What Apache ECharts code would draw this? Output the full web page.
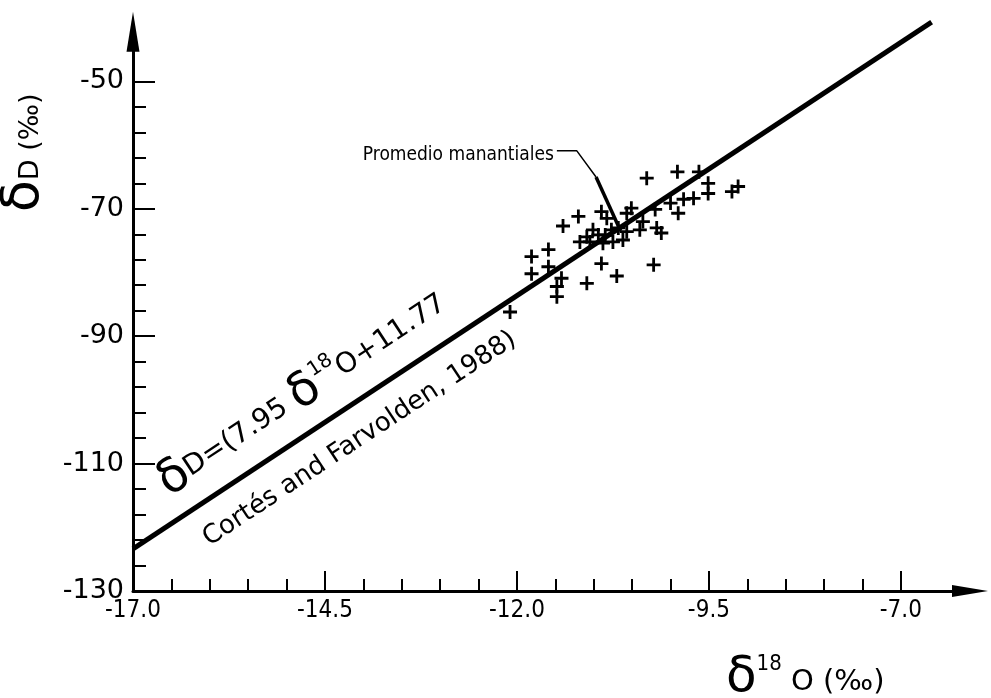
<!DOCTYPE html>
<html>
<head>
<meta charset="utf-8">
<script src="https://cdn.jsdelivr.net/npm/echarts@6/dist/echarts.min.js"></script>
<style>
  html, body { margin: 0; padding: 0; background: #fff; }
  #chart { width: 991px; height: 698px; }
</style>
</head>
<body>
<div id="chart"></div>
<script>
// muestras (delta 18O, delta D), per mil
var d18O = [-10.31, -9.91, -9.63, -9.51, -9.51, -9.70, -9.83, -10.00, -9.90, -9.20, -9.12,
            -10.51, -10.57, -10.20, -10.90, -10.83, -11.20, -11.40, -11.01, -11.09, -11.18,
            -11.05, -10.94, -10.85, -10.77, -10.68, -10.57, -10.62, -10.75, -10.88, -10.40,
            -10.36, -10.12, -10.18, -11.59, -11.81, -11.81, -11.59, -11.42, -11.48, -11.48,
            -11.09, -10.90, -10.70, -10.22, -12.09];
var dD   = [-65.2, -64.2, -64.2, -66.0, -67.6, -68.35, -68.5, -69.1, -70.7, -67.3, -66.5,
            -69.9, -70.7, -70.1, -70.45, -71.5, -71.2, -72.7, -73.3, -74.4, -75.2,
            -75.2, -74.1, -74.1, -73.3, -73.0, -73.6, -74.9, -75.2, -75.4, -73.3,
            -72.0, -73.8, -73.0, -76.4, -77.5, -80.2, -79.1, -80.9, -82.2, -83.8,
            -81.7, -78.6, -80.55, -78.8, -86.2];

// recta de Cortés and Farvolden (1988): dD = 7.95 d18O + 11.77
var lineSlope = 7.95;
var lineIntercept = 11.77;
var lineX = [-17.0, -6.6];

// promedio manantiales (leader line)
var leaderX = [-11.48, -11.22, -10.97];
var leaderY = [-60.9, -60.9, -65.0];
var meanPoint = [-10.65, -73.5];

// ticks
var xMajor = [-17.0, -14.5, -12.0, -9.5, -7.0];
var yMajor = [-130, -110, -90, -70, -50];
var xMinor = [];
for (var i = 0; i < xMajor.length - 1; i++) {
  for (var k = 1; k < 5; k++) xMinor.push(+(xMajor[i] + k * 0.5).toFixed(1));
}
var yMinor = [];
for (var j = 0; j < yMajor.length - 1; j++) {
  for (var m = 1; m < 5; m++) yMinor.push(yMajor[j] + m * 4);
}

var scatterData = d18O.map(function (x, i) { return [x, dD[i]]; });
var lineData = lineX.map(function (x) { return [x, +(lineSlope * x + lineIntercept).toFixed(2)]; });
var leaderData = leaderX.map(function (x, i) { return [x, leaderY[i]]; });

var plus = 'path://M5.6,0 H8.4 V5.6 H14 V8.4 H8.4 V14 H5.6 V8.4 H0 V5.6 H5.6 Z';
var labelFont = '"DejaVu Sans", sans-serif';
var condFont = '"DejaVu Sans Condensed", "DejaVu Sans", sans-serif';
var narrowFont = '"Liberation Sans Narrow", "DejaVu Sans Condensed", sans-serif';

var myChart = echarts.init(document.getElementById('chart'), null, { renderer: 'canvas' });

var baseX = { type: 'value', min: -17, max: -6.1, position: 'bottom', splitLine: { show: false } };
var baseY = { type: 'value', min: -130, max: -42.2, position: 'left', splitLine: { show: false } };

var option = {
  animation: false,
  backgroundColor: '#fff',
  grid: { left: 133, right: 21, top: 31.7, bottom: 107 },
  xAxis: [
    Object.assign({}, baseX, {
      axisLine: { show: true, onZero: false, symbol: ['none', 'triangle'], symbolSize: [12, 36],
                  lineStyle: { color: '#000', width: 3 } },
      axisTick: { show: true, inside: true, length: 20, customValues: xMajor,
                  lineStyle: { color: '#000', width: 2 } },
      axisLabel: { customValues: xMajor, margin: 8, color: '#000', fontSize: 24,
                   fontFamily: condFont,
                   formatter: function (v) { return v.toFixed(1); } }
    }),
    Object.assign({}, baseX, {
      axisLine: { show: false, onZero: false },
      axisTick: { show: true, inside: true, length: 12, customValues: xMinor,
                  lineStyle: { color: '#000', width: 2 } },
      axisLabel: { show: false }
    })
  ],
  yAxis: [
    Object.assign({}, baseY, {
      axisLine: { show: true, onZero: false, symbol: ['none', 'triangle'], symbolSize: [13, 40],
                  lineStyle: { color: '#000', width: 3 } },
      axisTick: { show: true, inside: true, length: 22, customValues: yMajor,
                  lineStyle: { color: '#000', width: 2 } },
      axisLabel: { customValues: yMajor, margin: 9, color: '#000', fontSize: 27,
                   fontFamily: labelFont }
    }),
    Object.assign({}, baseY, {
      axisLine: { show: false, onZero: false },
      axisTick: { show: true, inside: true, length: 13, customValues: yMinor,
                  lineStyle: { color: '#000', width: 2 } },
      axisLabel: { show: false }
    })
  ],
  graphic: [
    {
      type: 'text', x: 50, y: 212, rotation: Math.PI / 2,
      style: {
        text: '{d|δ}{t|D (‰)}', fill: '#000', align: 'left', verticalAlign: 'bottom',
        rich: {
          d: { fontSize: 52, fontFamily: labelFont, verticalAlign: 'bottom', fill: '#000' },
          t: { fontSize: 27, fontFamily: labelFont, verticalAlign: 'bottom', fill: '#000',
               padding: [0, 0, 6, 0] }
        }
      }
    },
    {
      type: 'text', x: 726, y: 703,
      style: {
        text: '{d|δ}{s|18}{t| O (‰)}', fill: '#000', align: 'left', verticalAlign: 'bottom',
        rich: {
          d: { fontSize: 50, fontFamily: labelFont, verticalAlign: 'bottom', fill: '#000' },
          s: { fontSize: 22, fontFamily: condFont, verticalAlign: 'top', fill: '#000' },
          t: { fontSize: 29, fontFamily: labelFont, verticalAlign: 'bottom', fill: '#000',
               padding: [0, 0, 6, 0] }
        }
      }
    }
  ],
  series: [
    {
      name: 'recta',
      type: 'line',
      data: lineData,
      symbol: 'none',
      clip: false,
      silent: true,
      lineStyle: { color: '#000', width: 5 },
      z: 3
    },
    {
      name: 'muestras',
      type: 'scatter',
      data: scatterData,
      symbol: plus,
      symbolSize: 14,
      itemStyle: { color: '#000', opacity: 1 },
      z: 4
    },
    {
      name: 'leader',
      type: 'line',
      data: leaderData,
      symbol: 'none',
      silent: true,
      lineStyle: { color: '#000', width: 1.5 },
      z: 5
    },
    {
      name: 'leader2',
      type: 'line',
      data: [leaderData[leaderData.length - 1], meanPoint],
      symbol: 'none',
      silent: true,
      lineStyle: { color: '#000', width: 3.5 },
      z: 5
    },
    {
      name: 'textos',
      type: 'scatter',
      symbolSize: 0,
      silent: true,
      itemStyle: { opacity: 1 },
      z: 6,
      data: [
        {
          value: leaderData[0],
          label: { show: true, position: 'left', distance: 3, offset: [0, 4], color: '#000',
                   fontSize: 19, fontFamily: narrowFont, formatter: 'Promedio manantiales' }
        },
        {
          value: [-16.45, -116.75],
          label: {
            show: true, position: 'inside', align: 'left', verticalAlign: 'bottom', rotate: 33.4,
            color: '#000', formatter: '{d|δ}{t|D=(7.95 }{d|δ}{s|18}{t|O+11.77}',
            rich: {
              d: { fontSize: 48, fontFamily: labelFont, verticalAlign: 'bottom', color: '#000' },
              s: { fontSize: 20, fontFamily: labelFont, verticalAlign: 'top', color: '#000' },
              t: { fontSize: 28, fontFamily: labelFont, verticalAlign: 'bottom', color: '#000',
                   padding: [0, 0, 10, 0] }
            }
          }
        },
        {
          value: [-16.15, -120.4],
          label: {
            show: true, position: 'inside', align: 'left', verticalAlign: 'top', rotate: 33.4,
            color: '#000', fontSize: 26, fontFamily: labelFont,
            formatter: 'Cortés and Farvolden, 1988)'
          }
        }
      ]
    }
  ]
};

myChart.setOption(option);
</script>
</body>
</html>
